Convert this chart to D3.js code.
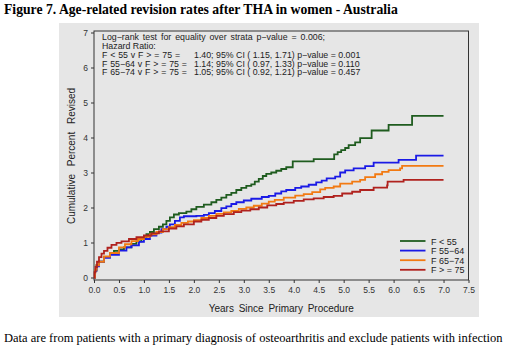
<!DOCTYPE html>
<html>
<head>
<meta charset="utf-8">
<script src="https://cdn.jsdelivr.net/npm/d3@7"></script>
<style>
    body { margin: 0; background: #fff; }
    svg text { font-family: "Liberation Sans", Arial, sans-serif; fill: #222; }
    .title { font-family: "Liberation Serif", "Times New Roman", serif; font-weight: bold; font-size: 13.7px; fill: #000; }
    .note { font-family: "Liberation Serif", "Times New Roman", serif; font-size: 12.5px; fill: #000; }
    .tick text { font-size: 8.5px; fill: #333; }
    .curve { fill: none; stroke-width: 1.8; }
</style>
</head>
<body>
<script>
// cumulative percent revised, [years, percent]
var f55 = [[0,0],[0.02,0.2],[0.05,0.35],[0.1,0.45],[0.2,0.58],[0.32,0.7],[0.4,0.76],[0.5,0.8],[0.6,0.86],[0.75,0.96],
    [0.85,1.03],[0.95,1.12],[1.05,1.24],[1.12,1.3],[1.2,1.38],[1.3,1.45],[1.38,1.52],[1.45,1.62],[1.52,1.72],[1.6,1.8],
    [1.7,1.84],[1.85,1.88],[1.95,1.95],[2.05,2.02],[2.2,2.08],[2.35,2.15],[2.45,2.22],[2.55,2.28],[2.65,2.36],[2.75,2.42],
    [2.85,2.5],[2.95,2.56],[3.05,2.62],[3.15,2.66],[3.22,2.74],[3.3,2.82],[3.38,2.9],[3.45,2.96],[3.55,3.0],[3.65,3.05],
    [3.75,3.1],[3.85,3.15],[3.98,3.32],[4.4,3.38],[4.81,3.52],[4.88,3.58],[4.95,3.64],[5.03,3.7],[5.1,3.78],[5.23,3.86],
    [5.33,3.98],[5.56,4.2],[5.9,4.36],[6.37,4.62],[7.0,4.62]];
var f5564 = [[0,0],[0.02,0.2],[0.05,0.32],[0.1,0.45],[0.2,0.56],[0.32,0.65],[0.5,0.77],[0.65,0.86],[0.75,0.92],[0.9,1.02],
    [1.0,1.1],[1.12,1.2],[1.25,1.28],[1.35,1.38],[1.45,1.45],[1.52,1.52],[1.62,1.62],[1.72,1.72],[1.8,1.75],[2.05,1.76],
    [2.2,1.79],[2.3,1.84],[2.42,1.9],[2.55,1.98],[2.65,2.03],[2.75,2.1],[2.85,2.15],[3.0,2.2],[3.15,2.25],[3.36,2.3],
    [3.5,2.33],[3.63,2.4],[3.75,2.46],[3.85,2.5],[4.03,2.56],[4.15,2.6],[4.3,2.65],[4.45,2.72],[4.56,2.77],[4.66,2.83],
    [4.83,2.88],[4.93,3.0],[5.03,3.06],[5.2,3.12],[5.43,3.18],[5.6,3.28],[6.1,3.36],[6.45,3.48],[7.0,3.48]];
var f6574 = [[0,0],[0.02,0.22],[0.05,0.35],[0.1,0.45],[0.2,0.6],[0.32,0.7],[0.5,0.86],[0.62,0.95],[0.75,1.04],[0.88,1.1],
    [1.0,1.16],[1.12,1.23],[1.25,1.3],[1.38,1.38],[1.5,1.44],[1.62,1.5],[1.75,1.56],[1.88,1.6],[2.0,1.64],[2.15,1.7],
    [2.3,1.76],[2.45,1.82],[2.6,1.86],[2.75,1.9],[2.9,1.96],[3.05,2.0],[3.2,2.05],[3.36,2.11],[3.5,2.17],[3.62,2.22],
    [3.8,2.28],[4.03,2.34],[4.2,2.38],[4.37,2.44],[4.53,2.52],[4.63,2.56],[4.8,2.6],[4.93,2.68],[5.17,2.74],[5.33,2.79],
    [5.43,2.87],[5.63,2.95],[5.77,3.02],[5.9,3.07],[6.13,3.12],[6.17,3.19],[7.0,3.19]];
var f75 = [[0,0],[0.01,0.15],[0.03,0.3],[0.06,0.45],[0.1,0.58],[0.15,0.68],[0.2,0.76],[0.27,0.85],[0.35,0.93],[0.45,0.99],
    [0.55,1.03],[0.7,1.1],[0.85,1.15],[1.0,1.2],[1.15,1.26],[1.3,1.32],[1.5,1.4],[1.65,1.46],[1.8,1.52],[2.0,1.6],
    [2.15,1.65],[2.3,1.7],[2.45,1.76],[2.6,1.81],[2.8,1.87],[2.95,1.91],[3.13,1.95],[3.3,2.0],[3.47,2.06],[3.65,2.1],
    [3.8,2.14],[4.0,2.19],[4.2,2.23],[4.4,2.26],[4.6,2.3],[4.8,2.33],[4.97,2.4],[5.17,2.45],[5.33,2.5],[5.6,2.57],
    [5.87,2.63],[5.88,2.74],[6.2,2.79],[7.0,2.79]];

var groupNames = ["F < 55", "F 55\u221264", "F 65\u221274", "F > = 75"];
var xTicks = [0, 0.5, 1, 1.5, 2, 2.5, 3, 3.5, 4, 4.5, 5, 5.5, 6, 6.5, 7, 7.5];
var yTicks = [0, 1, 2, 3, 4, 5, 6, 7];

var testLine = "Log\u2212rank test for equality over strata p\u2212value = 0.006;";
var hrHeader = "Hazard Ratio:";
var hrLabels = ["F < 55 v F > = 75 =", "F 55\u221264 v F > = 75 =", "F 65\u221274 v F > = 75 ="];
var hrValues = ["1.40; 95% CI ( 1.15, 1.71) p\u2212value = 0.001",
                "1.14; 95% CI ( 0.97, 1.33) p\u2212value = 0.110",
                "1.05; 95% CI ( 0.92, 1.21) p\u2212value = 0.457"];

function init() {
    var w = 511;
    var h = 354;
    var left = 94, right = 468.5, top = 32.5, bottom = 277.5;
    var colors = ["#1f5c1f", "#1a1ae6", "#f27a12", "#b0221e"];
    var series = [f55, f5564, f6574, f75];

    var svg = d3.select("body").append("svg")
        .attr("width", w)
        .attr("height", h);

    svg.append("text").attr("class", "title")
        .attr("x", 4).attr("y", 14)
        .text("Figure 7. Age-related revision rates after THA in women - Australia");

    // grey panel behind the plot
    svg.append("rect")
        .attr("x", 59).attr("y", 23)
        .attr("width", 420).attr("height", 294)
        .attr("fill", "#e6e6e6");

    var xScale = d3.scaleLinear().domain([0, 7.5]).range([left, right]);
    var yScale = d3.scaleLinear().domain([0, 7]).range([bottom, top]);

    // plot frame
    svg.append("rect")
        .attr("x", left).attr("y", 31)
        .attr("width", right - left).attr("height", 280 - 31)
        .attr("fill", "none")
        .attr("stroke", "#333")
        .attr("stroke-width", 1);

    svg.append("g")
        .attr("class", "x axis")
        .attr("transform", "translate(0,280)")
        .call(d3.axisBottom(xScale).tickValues(xTicks).tickSize(3).tickPadding(4).tickFormat(d3.format(".1f")))
        .call(function(g) { g.select(".domain").remove(); });

    svg.append("g")
        .attr("class", "y axis")
        .attr("transform", "translate(" + left + ",0)")
        .call(d3.axisLeft(yScale).tickValues(yTicks).tickSize(3).tickPadding(3).tickFormat(d3.format("d")))
        .call(function(g) { g.select(".domain").remove(); });

    svg.selectAll(".tick line").attr("stroke", "#333");

    svg.append("text")
        .attr("x", (left + right) / 2).attr("y", 312)
        .attr("text-anchor", "middle")
        .style("font-size", "10px")
        .style("word-spacing", "2px")
        .text("Years Since Primary Procedure");

    svg.append("text")
        .attr("transform", "translate(75,156) rotate(-90)")
        .attr("text-anchor", "middle")
        .style("font-size", "10px")
        .style("word-spacing", "5px")
        .text("Cumulative Percent Revised");

    // Kaplan-Meier style step curves
    var line = d3.line()
        .curve(d3.curveStepAfter)
        .x(function(d) { return xScale(d[0]); })
        .y(function(d) { return yScale(d[1]); });

    series.forEach(function(s, i) {
        svg.append("path")
            .datum(s)
            .attr("class", "curve")
            .attr("stroke", colors[i])
            .attr("d", line);
    });

    // log-rank / hazard ratio annotation
    var note = svg.append("g").style("font-size", "8.8px");
    note.append("text").attr("x", 102).attr("y", 40)
        .style("word-spacing", "1.5px")
        .text(testLine);
    note.append("text").attr("x", 102).attr("y", 48.5).text(hrHeader);
    hrLabels.forEach(function(lab, i) {
        var yy = 58 + i * 8.5;
        note.append("text").attr("x", 102).attr("y", yy)
            .style("word-spacing", "0.4px")
            .text(lab);
        note.append("text").attr("x", 194).attr("y", yy).text(hrValues[i]);
    });

    // legend
    var legend = svg.append("g");
    groupNames.forEach(function(name, i) {
        var yy = 241 + i * 9.6;
        legend.append("line")
            .attr("x1", 400).attr("x2", 425.5)
            .attr("y1", yy).attr("y2", yy)
            .attr("stroke", colors[i])
            .attr("stroke-width", 1.8);
        legend.append("text")
            .attr("x", 431).attr("y", yy + 3.5)
            .style("font-size", "9px")
            .text(name);
    });

    svg.append("text").attr("class", "note")
        .attr("x", 4).attr("y", 342)
        .text("Data are from patients with a primary diagnosis of osteoarthritis and exclude patients with infection");
}

window.onload = init;
</script>
</body>
</html>
